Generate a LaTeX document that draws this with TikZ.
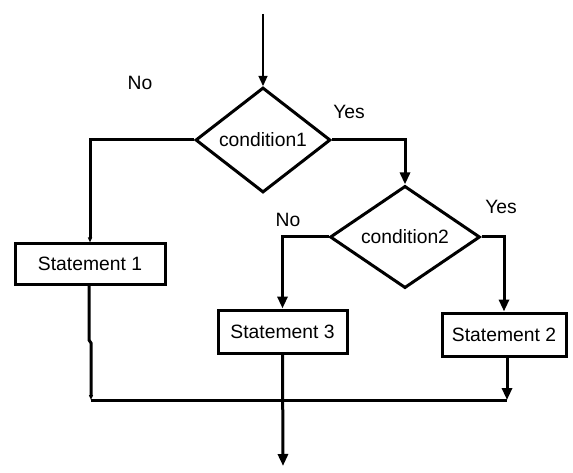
\documentclass[tikz,border=0pt]{standalone}
\usepackage{fontspec}
\setmainfont{Liberation Sans}
\usetikzlibrary{shapes.geometric,arrows.meta}
\begin{document}
\begin{tikzpicture}[x=1pt,y=-1pt,
  every node/.style={font=\fontsize{19.3}{23}\selectfont, inner sep=0pt},
  decision/.style={diamond, draw, line width=3pt, line join=miter},
  stmt/.style={rectangle, draw, line width=3pt},
  flow/.style={line width=3pt, -{Triangle[length=12pt,width=10pt]}},
  plain/.style={line width=3pt},
  faint/.style={line width=3pt, -{Triangle[length=5pt,width=4pt]}},
  lbl/.style={}
]
% canvas
\fill[white] (0,0) rectangle (573,473);
\useasboundingbox (0,0) rectangle (573,473);

% decisions
\node[decision, minimum width=135pt, minimum height=105pt] (d1) at (263,140) {condition1};
\node[decision, minimum width=150pt, minimum height=100pt] (d2) at (405,237) {condition2};

% statements
\node[stmt, minimum width=150pt, minimum height=40pt] (s1) at (90,264) {Statement 1};
\node[stmt, minimum width=129pt, minimum height=43pt] (s3) at (282.5,331.5) {Statement 3};
\node[stmt, minimum width=124pt, minimum height=43pt] (s2) at (504,334.5) {Statement 2};

% branch labels
\node[lbl] (no1) at (140,83) {No};
\node[lbl] (yes1) at (349,112) {Yes};
\node[lbl] (no2) at (288,220) {No};
\node[lbl] (yes2) at (501,207) {Yes};

% free ends
\coordinate (start) at (263,14);
\coordinate (joinL) at (91,400);
\coordinate (joinR) at (507,400);
\coordinate (finish) at (283,466);

% entry
\draw[line width=1.2pt, -{Triangle[length=10pt,width=9pt]}] (start) -- (d1.north);

% condition1 branches
\draw[faint] (d1.west) -| (s1.north);
\draw[flow] (d1.east) -| (d2.north);

% condition2 branches
\draw[flow] (d2.west) -| (s3.north);
\draw[flow] (d2.east) -| (s2.north);

% merge
\draw[faint] (s1.south -| 89,0) -- (89,340) -- (91,343) -- (joinL);
\draw[plain] (joinL) -- (joinR);
\draw[flow] (s2.south -| joinR) -- (joinR);
\draw[flow] (s3.south) -- (finish);
\end{tikzpicture}
\end{document}
